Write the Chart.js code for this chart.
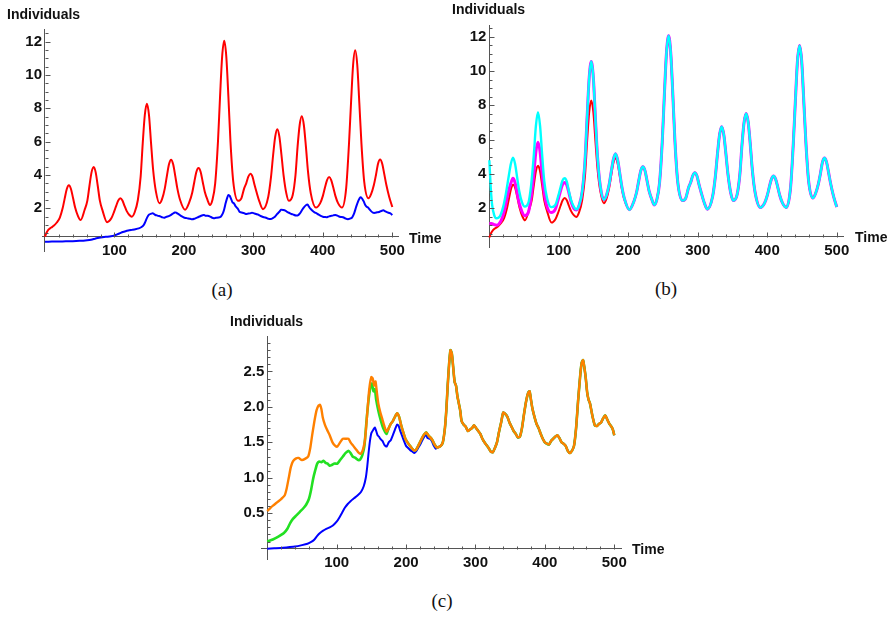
<!DOCTYPE html>
<html>
<head>
<meta charset="utf-8">
<script src="https://cdn.jsdelivr.net/npm/chart.js@4.4.0/dist/chart.umd.min.js"></script>
<style>
body { margin: 0; background: #fff; width: 889px; height: 617px; position: relative; overflow: hidden; font-family: "Liberation Sans", Arial, sans-serif; }
canvas { position: absolute; }
.lab { position: absolute; font-weight: bold; font-size: 14px; color: #111; line-height: 1; white-space: nowrap; }
.cap { position: absolute; font-family: "Liberation Serif", "DejaVu Serif", serif; font-size: 19px; line-height: 1; transform: translate(-50%, -50%); color: #111; }
</style>
</head>
<body>
<canvas id="chartA" width="430" height="275" style="left:0;top:0"></canvas>
<canvas id="chartB" width="449" height="275" style="left:440px;top:0"></canvas>
<canvas id="chartC" width="440" height="270" style="left:210px;top:310px"></canvas>

<div class="lab" style="left:7px;top:7px">Individuals</div>
<div class="lab" style="left:409px;top:231px">Time</div>
<div class="cap" style="left:222px;top:289px">(a)</div>

<div class="lab" style="left:452px;top:2px">Individuals</div>
<div class="lab" style="left:855px;top:230px">Time</div>
<div class="cap" style="left:666px;top:288px">(b)</div>

<div class="lab" style="left:230px;top:314px">Individuals</div>
<div class="lab" style="left:632px;top:542px">Time</div>
<div class="cap" style="left:442px;top:600px">(c)</div>

<script>
// tick labels
const xTicks = [100, 200, 300, 400, 500];
const yTicksAB = [2, 4, 6, 8, 10, 12];
const yTicksC = [0.5, 1.0, 1.5, 2.0, 2.5];
const yLabelsC = ["0.5", "1.0", "1.5", "2.0", "2.5"];

// red curve (panels a and b)
const redT = [0, 2, 5, 9, 13, 17, 21.4, 25.4, 28.4, 31.4, 34.4, 37.4, 40.4, 43.4, 47.4, 51.3,
  57, 61, 64, 67, 70.2, 73, 76, 79, 83, 89.4,
  95.5, 99.5, 102.5, 105.5, 108.5, 111.5, 114.5, 117.5, 121.5, 125,
  129, 133.7, 137.7, 140.7, 143.7, 146.7, 149.7, 152.7, 155.7, 159.7, 164.8,
  168.5, 172.5, 175.5, 178.5, 181.5, 184.5, 187.5, 190.5, 194.5, 201.6,
  208, 212, 215, 218, 221, 224, 227, 230, 234, 237.4,
  241, 245, 249, 252, 255, 258, 261, 264, 267, 271, 278,
  282.7, 286.7, 289.7, 292.7, 295.7, 298.7, 301.7, 304.7, 308.7, 313.8,
  321.4, 325.4, 328.4, 331.4, 334.4, 337.4, 340.4, 343.4, 347.4, 351,
  356.6, 360.6, 363.6, 366.6, 369.6, 372.6, 375.6, 378.6, 382.6, 390,
  396, 400, 403, 406, 409, 412, 415, 418, 422, 427.5,
  433.5, 437.5, 440.5, 443.5, 446.5, 449.5, 452.5, 455.5, 459.5, 465.6,
  469.4, 473.4, 476.4, 479.4, 482.4, 485.4, 488.4, 491.4, 495.4, 500];
const redV = [0.3, 0.52, 0.72, 0.85, 0.97, 1.15, 1.45, 2.0, 2.6, 3.16, 3.38, 3.16, 2.62, 2.05, 1.55, 1.3,
  1.9, 2.46, 3.34, 4.16, 4.48, 4.16, 3.34, 2.46, 1.85, 1.17,
  1.4, 1.8, 2.15, 2.47, 2.6, 2.47, 2.15, 1.85, 1.6, 1.5,
  1.75, 2.5, 3.9, 5.9, 7.6, 8.28, 7.6, 5.9, 4.3, 3.0, 2.3,
  2.55, 3.2, 3.95, 4.64, 4.92, 4.64, 3.95, 3.2, 2.5, 1.92,
  2.4, 2.95, 3.6, 4.2, 4.42, 4.2, 3.6, 3.0, 2.5, 2.2,
  2.5, 3.5, 6.0, 8.7, 11.1, 12.05, 11.1, 8.7, 6.0, 3.6, 2.45,
  2.6, 3.2, 3.5, 3.9, 4.08, 3.9, 3.4, 2.95, 2.4, 1.95,
  2.7, 3.9, 5.2, 6.3, 6.75, 6.3, 5.2, 4.0, 2.9, 2.45,
  2.8, 4.0, 5.7, 7.0, 7.52, 7.0, 5.7, 4.2, 2.9, 2.05,
  2.3, 2.75, 3.25, 3.7, 3.88, 3.7, 3.25, 2.75, 2.3, 2.05,
  3.2, 5.8, 8.3, 10.6, 11.48, 10.6, 8.3, 5.9, 3.6, 2.6,
  2.85, 3.4, 4.0, 4.68, 4.93, 4.68, 4.05, 3.4, 2.7, 2.08];

// magenta curve (panel b), early part; later it follows cyan
const magT = [0, 3, 7, 11, 15, 19, 23, 27, 30.5, 34, 37, 40, 43, 47, 51,
  56, 60, 64, 67, 70, 73, 76, 79, 83, 89,
  95, 99, 102, 105, 108.5, 111.5, 114.5, 117.5, 121.5, 125];
const magV = [1.12, 1.12, 1.05, 1.02, 1.15, 1.5, 2.1, 2.9, 3.4, 3.75, 3.5, 2.9, 2.3, 1.8, 1.57,
  1.75, 2.6, 4.0, 5.3, 5.85, 5.3, 4.0, 2.9, 2.1, 1.75,
  1.95, 2.5, 2.95, 3.35, 3.5, 3.35, 2.9, 2.4, 2.0, 1.9];

// cyan curve (panel b), early part; later it follows red
const cyanT = [0, 2, 4, 7, 10, 13, 16, 20, 24, 28, 31, 34, 37, 40, 43, 47, 51,
  56, 60, 64, 67, 70, 73, 76, 79, 83, 89,
  95, 99, 102, 105, 108.5, 111.5, 114.5, 117.5, 121.5, 125,
  129, 133.7, 137.7, 140.7, 143.7, 146.7, 149.7, 152.7, 155.7, 159.7, 164.8,
  168.5, 172.5, 175.5, 178.5, 181.5, 184.5, 187.5, 190.5, 194.5, 201.6];
const cyanV = [4.8, 3.2, 2.2, 1.6, 1.42, 1.45, 1.6, 2.1, 2.9, 3.9, 4.6, 4.95, 4.6, 3.8, 3.0, 2.35, 2.1,
  2.3, 3.3, 5.1, 6.8, 7.6, 6.8, 5.1, 3.6, 2.6, 2.07,
  2.2, 2.7, 3.15, 3.6, 3.75, 3.55, 3.0, 2.5, 2.1, 1.95,
  2.15, 3.0, 4.8, 7.3, 9.6, 10.55, 9.6, 7.2, 5.0, 3.3, 2.5,
  2.75, 3.4, 4.15, 4.85, 5.18, 4.85, 4.1, 3.3, 2.55, 1.92];

// blue curve (panels a and c)
const blueT = [0, 10, 20, 30, 40, 50, 58, 64, 68, 72, 76, 80, 85, 90, 95, 100, 104, 108, 112, 116, 120, 125, 130, 135,
  139, 142, 144, 146, 148, 150, 153, 155, 157, 159, 161, 163, 166, 169, 172, 175, 178, 181, 184, 187, 189, 191,
  194, 197, 200, 203, 206, 209, 212, 215, 218, 221, 224, 227, 229, 231, 234, 237, 240, 243, 246, 250, 253,
  256, 258, 260, 262, 264, 266, 268, 270, 272, 274, 276, 278, 280, 283, 286, 289, 292, 295, 298, 301, 304,
  307, 310, 313, 316, 319, 322, 325, 328, 331, 334, 337, 340, 343, 346, 349, 352, 355, 358, 361, 364, 367,
  370, 373, 376, 378, 380, 382, 385, 388, 391, 394, 397, 400, 403, 406, 409, 412, 415, 418, 421, 424, 427,
  430, 433, 436, 439, 442, 445, 448, 451, 453, 455, 457, 459, 461, 463, 465, 467, 469, 472, 475, 478, 481,
  484, 487, 490, 493, 496, 498, 500];
const blueV = [0.0, 0.005, 0.01, 0.02, 0.03, 0.05, 0.07, 0.1, 0.13, 0.18, 0.22, 0.25, 0.28, 0.3, 0.33, 0.38, 0.44, 0.51, 0.58, 0.63, 0.67, 0.71, 0.75, 0.8,
  0.88, 1.0, 1.15, 1.35, 1.52, 1.63, 1.68, 1.71, 1.66, 1.6, 1.58, 1.55, 1.52, 1.46, 1.44, 1.5, 1.53, 1.6, 1.68, 1.75, 1.74, 1.68,
  1.6, 1.52, 1.45, 1.42, 1.39, 1.37, 1.35, 1.38, 1.43, 1.48, 1.54, 1.59, 1.6, 1.56, 1.55, 1.52, 1.45, 1.41, 1.43, 1.45, 1.5,
  1.7, 1.95, 2.3, 2.6, 2.8, 2.75, 2.55, 2.35, 2.3, 2.15, 2.05, 1.95, 1.8, 1.75, 1.72, 1.66, 1.68, 1.7, 1.74, 1.7, 1.66,
  1.62, 1.55, 1.5, 1.46, 1.42, 1.37, 1.36, 1.42, 1.5, 1.65, 1.78, 1.92, 1.9, 1.86, 1.78, 1.72, 1.66, 1.62, 1.57, 1.58, 1.7,
  1.9, 2.08, 2.2, 2.22, 2.1, 1.98, 1.86, 1.76, 1.7, 1.62, 1.55, 1.5, 1.48, 1.47, 1.52, 1.55, 1.58, 1.6, 1.56, 1.5, 1.48,
  1.45, 1.38, 1.35, 1.38, 1.45, 1.7, 2.1, 2.45, 2.62, 2.66, 2.55, 2.4, 2.2, 2.1, 2.05, 1.95, 1.85, 1.74, 1.73, 1.76, 1.78,
  1.84, 1.88, 1.82, 1.76, 1.72, 1.68, 1.6];

// orange curve (panel c), early part; later it follows blue
const orangeT = [0, 5, 10, 15, 20, 25, 28, 31, 34, 37, 41, 45, 50, 55, 59, 62, 65, 68, 71, 74, 76, 78,
  80, 83, 86, 90, 94, 98, 101, 105, 109, 113, 117, 120, 124, 128, 132, 135, 138, 141, 144, 147, 150, 152,
  154, 156, 158, 160, 163, 166, 169, 172, 175, 178, 181, 184, 187, 190, 193, 196, 199, 202, 205, 208, 211,
  214, 217, 220, 223, 226, 229, 232, 235, 238, 241, 244, 246];
const orangeV = [0.53, 0.58, 0.62, 0.66, 0.7, 0.75, 0.85, 1.0, 1.15, 1.23, 1.27, 1.28, 1.25, 1.27, 1.3, 1.42, 1.62, 1.8, 1.95, 2.02, 2.03, 1.97,
  1.85, 1.75, 1.68, 1.6, 1.5, 1.45, 1.44, 1.5, 1.55, 1.55, 1.55, 1.5, 1.45, 1.4, 1.35, 1.34, 1.4, 1.55, 1.9, 2.25, 2.42, 2.4,
  2.3, 2.36, 2.2, 2.05, 1.92, 1.82, 1.72, 1.65, 1.7, 1.76, 1.8, 1.86, 1.91, 1.86, 1.74, 1.64, 1.55, 1.5, 1.46, 1.42, 1.39,
  1.39, 1.44, 1.5, 1.56, 1.61, 1.64, 1.6, 1.57, 1.53, 1.47, 1.43, 1.43];

// green curve (panel c), early part; later it follows orange
const greenT = [0, 8, 16, 24, 29, 33, 37, 42, 47, 52, 56, 60, 63, 66, 69, 72, 75, 78, 81, 84, 87, 90, 93, 97,
  101, 105, 109, 113, 117, 120, 123, 127, 131, 134, 137, 140, 143, 146, 149, 151, 153, 155, 157, 160, 163,
  166, 169, 172];
const greenV = [0.1, 0.13, 0.17, 0.22, 0.28, 0.36, 0.42, 0.47, 0.52, 0.57, 0.62, 0.7, 0.82, 0.98, 1.1, 1.2, 1.23, 1.22, 1.24, 1.21, 1.2, 1.17, 1.18, 1.2,
  1.2, 1.25, 1.3, 1.35, 1.38, 1.35, 1.3, 1.28, 1.25, 1.26, 1.32, 1.45, 1.8, 2.1, 2.3, 2.33, 2.22, 2.25, 2.1, 1.95, 1.83,
  1.73, 1.66, 1.62];

const axisColor = "#555";
const tickFont = { family: "'Liberation Sans', Arial, sans-serif", weight: "bold", size: 15 };

function pts(ts, vs) {
  return ts.map((t, i) => ({ x: t, y: vs[i] }));
}

const redPts = pts(redT, redV);
const bluePts = pts(blueT, blueV);
const cyanPts = pts(cyanT, cyanV).concat(redPts.filter(p => p.x > 202));
const magentaPts = pts(magT, magV).concat(cyanPts.filter(p => p.x > 126));
const orangePts = pts(orangeT, orangeV).concat(bluePts.filter(p => p.x > 247));
const greenPts = pts(greenT, greenV).concat(orangePts.filter(p => p.x > 173));

// Mathematica-style inward tick marks
const inwardTicks = {
  id: "inwardTicks",
  afterDraw(chart, args, o) {
    const { ctx, scales: { x, y } } = chart;
    const x0 = Math.round(x.getPixelForValue(0)) + 0.5;
    const y0 = Math.round(y.getPixelForValue(o.axisY)) + 0.5;
    ctx.save();
    ctx.strokeStyle = axisColor;
    ctx.lineWidth = 1;
    ctx.beginPath();
    for (let k = 1; k * 20 <= 500; k++) {
      const px = Math.round(x.getPixelForValue(k * 20)) + 0.5;
      const len = k % 5 === 0 ? 5 : 3;
      ctx.moveTo(px, y0);
      ctx.lineTo(px, y0 - len);
    }
    const kStart = Math.ceil(o.axisY / o.yStep + 0.01);
    for (let k = kStart; k * o.yStep <= y.max; k++) {
      const py = Math.round(y.getPixelForValue(k * o.yStep)) + 0.5;
      const len = k % o.yEvery === 0 ? 5 : 3;
      ctx.moveTo(x0, py);
      ctx.lineTo(x0 + len, py);
    }
    ctx.stroke();
    ctx.restore();
  }
};

function makeChart(id, datasets, cfg) {
  return new Chart(document.getElementById(id), {
    type: "line",
    data: { datasets },
    options: {
      responsive: false,
      animation: false,
      devicePixelRatio: 1,
      layout: { padding: cfg.padding },
      elements: { point: { radius: 0 } },
      plugins: {
        legend: { display: false },
        tooltip: { enabled: false },
        inwardTicks: { axisY: cfg.axisY, yStep: cfg.yStep, yEvery: cfg.yEvery }
      },
      scales: {
        x: {
          type: "linear",
          min: cfg.xMin,
          max: cfg.xMax,
          position: { y: cfg.axisY },
          afterBuildTicks: s => { s.ticks = xTicks.map(v => ({ value: v })); },
          grid: { display: false, drawTicks: false },
          border: { display: true, color: axisColor, width: 1 },
          ticks: { font: tickFont, color: "#111", padding: 5, maxRotation: 0, autoSkip: false, callback: v => String(v) }
        },
        y: {
          type: "linear",
          min: cfg.yMin,
          max: cfg.yMax,
          position: { x: 0 },
          afterBuildTicks: s => { s.ticks = cfg.yTicks.map(v => ({ value: v })); },
          grid: { display: false, drawTicks: false },
          border: { display: true, color: axisColor, width: 1 },
          // thin space keeps the label off the axis line
          ticks: { font: tickFont, color: "#111", autoSkip: false, callback: (v, i) => cfg.yLabels[i] + "\u2009" }
        }
      }
    },
    plugins: [inwardTicks]
  });
}

makeChart("chartA", [
  { data: redPts, borderColor: "#ff0000", borderWidth: 2, cubicInterpolationMode: "monotone" },
  { data: bluePts, borderColor: "#0000ff", borderWidth: 2, tension: 0.2 }
], {
  padding: { left: 42.2, right: 31.4, top: 29.3, bottom: 23.3 },
  xMin: -4, xMax: 509, yMin: -0.6, yMax: 12.74, axisY: 0.3,
  yTicks: yTicksAB, yLabels: yTicksAB.map(String), yStep: 0.5, yEvery: 4
});

makeChart("chartB", [
  { data: cyanPts, borderColor: "#00ffff", borderWidth: 2.4, cubicInterpolationMode: "monotone" },
  { data: magentaPts, borderColor: "#ff00ff", borderWidth: 3, cubicInterpolationMode: "monotone" },
  { data: redPts, borderColor: "#ff0000", borderWidth: 2, cubicInterpolationMode: "monotone" }
], {
  padding: { left: 42.4, right: 46, top: 25, bottom: 27.7 },
  xMin: -10, xMax: 509, yMin: -0.27, yMax: 12.68, axisY: 0.34,
  yTicks: yTicksAB, yLabels: yTicksAB.map(String), yStep: 0.5, yEvery: 4
});

makeChart("chartC", [
  { data: orangePts, borderColor: "#ff8000", borderWidth: 2.4, tension: 0.2 },
  { data: greenPts, borderColor: "#22e022", borderWidth: 2.6, tension: 0.2 },
  { data: bluePts, borderColor: "#0000ff", borderWidth: 2, tension: 0.2 }
], {
  padding: { left: 51, right: 28.8, top: 26.7, bottom: 20.7 },
  xMin: -9, xMax: 510, yMin: -0.15, yMax: 2.99, axisY: 0,
  yTicks: yTicksC, yLabels: yLabelsC, yStep: 0.1, yEvery: 5
});
</script>
</body>
</html>
